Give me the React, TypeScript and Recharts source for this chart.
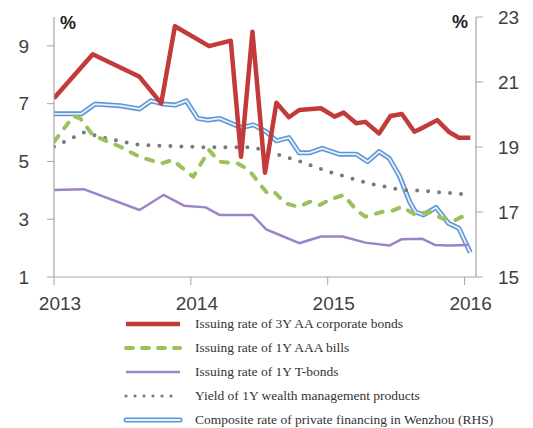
import React from 'react';
import { LineChart, Line, XAxis, YAxis } from 'recharts';

// x positions are months since Jan 2013
const yearTicks = [0, 12, 24, 36];
const yearLabels = ['2013', '2014', '2015', '2016'];
const leftTicks = [1, 3, 5, 7, 9];
const rightTicks = [15, 17, 19, 21, 23];

const seriesNames = [
  'Issuing rate of 3Y AA corporate bonds',
  'Issuing rate of 1Y AAA bills',
  'Issuing rate of 1Y T-bonds',
  'Yield of 1Y wealth management products',
  'Composite rate of private financing in Wenzhou (RHS)',
];

const corpMonths = [0, 3.4, 7.5, 9.4, 10.6, 13.6, 15.5, 16.4, 17.4, 18.5, 19.5, 20.6, 21.5, 23.4, 24.6, 25.4, 26.5, 27.3, 28.5, 29.5, 30.5, 31.6, 32.4, 33.6, 34.6, 35.5, 36.5];
const corpRates = [7.19, 8.71, 7.93, 7.01, 9.68, 8.99, 9.18, 5.16, 9.49, 4.61, 7.03, 6.53, 6.78, 6.84, 6.55, 6.69, 6.32, 6.37, 5.97, 6.57, 6.64, 6.03, 6.18, 6.43, 6.03, 5.82, 5.82];

const billMonths = [0, 1.7, 2.3, 3.4, 5.8, 7.5, 9.4, 10.4, 12.2, 13.6, 14.5, 16.1, 17.1, 18.0, 18.7, 19.3, 20.3, 21.4, 22.5, 23.3, 24.1, 25.4, 26.5, 27.3, 28.8, 29.7, 30.5, 31.7, 32.9, 34, 35.2, 36.1];
const billRates = [5.68, 6.57, 6.49, 5.91, 5.51, 5.16, 4.93, 5.05, 4.47, 5.39, 4.99, 4.93, 4.70, 4.24, 3.90, 3.95, 3.55, 3.43, 3.61, 3.49, 3.66, 3.84, 3.32, 3.09, 3.26, 3.30, 3.43, 3.15, 3.26, 3.03, 2.97, 3.15];

const tbondMonths = [0, 2.6, 7.5, 9.6, 11.4, 13.3, 14.5, 17.4, 18.6, 20, 21.5, 23.4, 25.3, 27.3, 29.4, 30.5, 32.3, 33.4, 34.6, 36.4];
const tbondRates = [4.01, 4.04, 3.32, 3.84, 3.47, 3.41, 3.15, 3.15, 2.65, 2.42, 2.17, 2.40, 2.40, 2.19, 2.09, 2.31, 2.32, 2.11, 2.09, 2.11];

const wmpMonths = [0, 2.6, 4.6, 7.5, 10.5, 13.3, 17.5, 21.2, 24.1, 27.6, 30.5, 32, 35.8];
const wmpRates = [5.51, 6.0, 5.80, 5.57, 5.53, 5.49, 5.49, 5.05, 4.64, 4.24, 4.01, 3.99, 3.87];

const wzMonths = [0, 2.4, 3.6, 5.8, 7.5, 8.5, 9.6, 10.6, 11.6, 12.6, 13.5, 14.5, 16.4, 17.5, 18.6, 19.5, 20.6, 21.5, 22.4, 23.5, 25, 26.5, 27.5, 28.5, 29.4, 30.3, 31.2, 31.7, 32.4, 33.5, 34.6, 35.5, 36.5];
const wzRates = [20.02, 20.02, 20.32, 20.27, 20.17, 20.42, 20.32, 20.29, 20.42, 19.88, 19.83, 19.88, 19.60, 19.68, 19.47, 19.19, 19.29, 18.82, 18.82, 18.96, 18.78, 18.78, 18.55, 18.86, 18.65, 18.10, 17.30, 17.00, 16.91, 17.14, 16.65, 16.50, 15.75];

const zip = (ms: number[], vs: number[]) => ms.map((m, i) => ({ m, v: vs[i] }));

const corpData = zip(corpMonths, corpRates);
const billData = zip(billMonths, billRates);
const tbondData = zip(tbondMonths, tbondRates);
const wmpData = zip(wmpMonths, wmpRates);
const wzData = zip(wzMonths, wzRates);

const RED = '#c33a3a';
const GREEN = '#9bc25a';
const PURPLE = '#9d84c8';
const GRAY = '#7a7a7a';
const BLUE = '#5f97d6';
const AXIS = '#a6a6a6';
const TICKFONT = '"Liberation Sans", Arial, sans-serif';

const YearTick = (props: any) => {
  const { x, y, payload } = props;
  const idx = yearTicks.indexOf(payload.value);
  return (
    <text x={x + 6} y={y + 23} textAnchor="middle" fontSize={19} fill="#404040" fontFamily={TICKFONT}>
      {yearLabels[idx]}
    </text>
  );
};

const Swatch = ({ i }: { i: number }) => {
  const common = { x1: 3, x2: 57, y1: 6, y2: 6 };
  return (
    <svg width={60} height={12} style={{ display: 'block' }}>
      {i === 0 && <line {...common} stroke={RED} strokeWidth={4.5} />}
      {i === 1 && <line {...common} stroke={GREEN} strokeWidth={4} strokeDasharray="7 9" strokeLinecap="round" />}
      {i === 2 && <line {...common} stroke={PURPLE} strokeWidth={2.5} />}
      {i === 3 && <line {...common} stroke={GRAY} strokeWidth={3.2} strokeDasharray="0 9" strokeLinecap="round" />}
      {i === 4 && (
        <g>
          <line {...common} stroke={BLUE} strokeWidth={5} strokeLinecap="round" />
          <line {...common} stroke="#e9f1fb" strokeWidth={1.8} strokeLinecap="round" />
        </g>
      )}
    </svg>
  );
};

export default function App() {
  return (
    <div style={{ position: 'absolute', left: 0, top: 0, width: 533, height: 428, background: '#fff' }}>
      <LineChart width={533} height={428} margin={{ top: 17, right: 0, left: 0, bottom: 0 }}>
        <XAxis
          type="number"
          dataKey="m"
          domain={[0, 37]}
          ticks={yearTicks}
          allowDataOverflow
          height={151}
          stroke={AXIS}
          tickSize={8}
          tickLine={{ stroke: AXIS }}
          axisLine={{ stroke: AXIS, strokeWidth: 1.2 }}
          tick={<YearTick />}
        />
        <YAxis
          yAxisId="left"
          orientation="left"
          width={54}
          domain={[1, 10]}
          ticks={leftTicks}
          allowDataOverflow
          tickSize={7}
          tickMargin={18}
          axisLine={{ stroke: AXIS, strokeWidth: 1.2 }}
          tickLine={{ stroke: AXIS }}
          tick={{ fontSize: 19, fill: '#404040', fontFamily: TICKFONT }}
        />
        <YAxis
          yAxisId="right"
          orientation="right"
          width={57}
          domain={[15, 23]}
          ticks={rightTicks}
          allowDataOverflow
          tickSize={7}
          tickMargin={15}
          axisLine={{ stroke: AXIS, strokeWidth: 1.2 }}
          tickLine={{ stroke: AXIS }}
          tick={{ fontSize: 19, fill: '#404040', fontFamily: TICKFONT, textAnchor: 'start' }}
        />
        <Line data={wzData} yAxisId="right" dataKey="v" stroke={BLUE} strokeWidth={5} dot={false} isAnimationActive={false} strokeLinejoin="round" />
        <Line data={wzData} yAxisId="right" dataKey="v" stroke="#e9f1fb" strokeWidth={1.8} dot={false} isAnimationActive={false} strokeLinejoin="round" legendType="none" />
        <Line data={tbondData} yAxisId="left" dataKey="v" stroke={PURPLE} strokeWidth={2.5} dot={false} isAnimationActive={false} strokeLinejoin="round" />
        <Line data={wmpData} yAxisId="left" dataKey="v" stroke={GRAY} strokeWidth={4} strokeDasharray="0 11" strokeLinecap="round" dot={false} isAnimationActive={false} />
        <Line data={billData} yAxisId="left" dataKey="v" stroke={GREEN} strokeWidth={4} strokeDasharray="7 10" strokeLinecap="round" dot={false} isAnimationActive={false} strokeLinejoin="round" />
        <Line data={corpData} yAxisId="left" dataKey="v" stroke={RED} strokeWidth={4.5} dot={false} isAnimationActive={false} strokeLinejoin="round" />
      </LineChart>
      <div style={{ position: 'absolute', left: 60, top: 14, fontFamily: TICKFONT, fontWeight: 'bold', fontSize: 18, color: '#222', lineHeight: '18px' }}>%</div>
      <div style={{ position: 'absolute', left: 452, top: 13, fontFamily: TICKFONT, fontWeight: 'bold', fontSize: 18, color: '#222', lineHeight: '18px' }}>%</div>
      <div style={{ position: 'absolute', left: 123, top: 312 }}>
        {seriesNames.map((name, i) => (
          <div key={name} style={{ display: 'flex', alignItems: 'center', height: 24 }}>
            <Swatch i={i} />
            <span style={{ marginLeft: 12, fontFamily: '"Liberation Serif", "Times New Roman", serif', fontSize: 13.5, color: '#333', whiteSpace: 'nowrap' }}>{name}</span>
          </div>
        ))}
      </div>
    </div>
  );
}
